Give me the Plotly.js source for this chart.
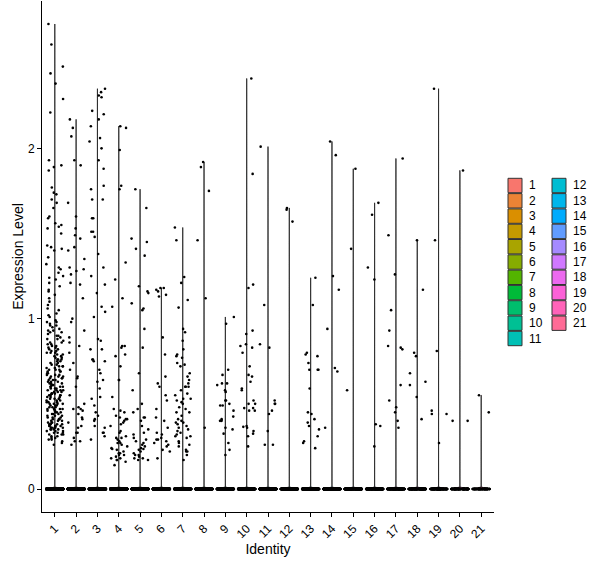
<!DOCTYPE html>
<html>
<head>
<meta charset="utf-8">
<script src="https://cdn.plot.ly/plotly-3.0.1.min.js"></script>
<style>
  html, body { margin: 0; padding: 0; background: #fff; }
  #vln { width: 600px; height: 568px; }
</style>
</head>
<body>
<div id="vln"></div>
<script>
// cluster labels
const identities = ['1','2','3','4','5','6','7','8','9','10','11','12','13','14','15','16','17','18','19','20','21']

// number of cells with zero expression in each cluster (the flat band at 0)
const zeroCounts = [900, 800, 700, 650, 600, 550, 500, 450, 420, 400, 380, 350, 320, 300, 280, 250, 220, 200, 180, 150, 100]

// non-zero expression values
const expr1 = [2.73, 2.61, 2.48, 2.44, 2.38, 2.29, 2.21, 1.93, 1.90, 1.89, 1.87, 1.77, 1.74, 1.73, 1.70, 1.68, 1.65, 1.60, 1.59, 1.56,
  1.55, 1.54, 1.53, 1.50, 1.43, 1.42, 1.41, 1.40, 1.36, 1.32, 1.30, 1.29, 1.27, 1.25, 1.24, 1.23, 1.21, 1.19, 1.17, 1.16,
  1.14, 1.12, 1.10, 1.08, 1.06, 1.05, 1.03, 1.02, 1.01,
  0.99, 0.98, 0.98, 0.97, 0.96, 0.95, 0.94, 0.93, 0.93, 0.92, 0.91, 0.90, 0.90,
  0.89, 0.88, 0.87, 0.86, 0.86, 0.85, 0.84, 0.84, 0.83, 0.82, 0.82, 0.81, 0.80, 0.80, 0.80,
  0.79, 0.79, 0.78, 0.77, 0.77, 0.76, 0.76, 0.75, 0.75, 0.74, 0.73, 0.73, 0.72, 0.72, 0.71, 0.71, 0.70, 0.70,
  0.69, 0.69, 0.68, 0.68, 0.67, 0.67, 0.66, 0.66, 0.65, 0.65, 0.65, 0.64, 0.64, 0.63, 0.63, 0.62, 0.62, 0.61, 0.61, 0.60, 0.60, 0.60,
  0.59, 0.59, 0.58, 0.58, 0.58, 0.57, 0.57, 0.56, 0.56, 0.56, 0.55, 0.55, 0.55, 0.54, 0.54, 0.53, 0.53, 0.53, 0.52, 0.52,
  0.51, 0.51, 0.50, 0.50, 0.50,
  0.49, 0.49, 0.48, 0.48, 0.47, 0.47, 0.47, 0.46, 0.46, 0.45, 0.45, 0.44, 0.44, 0.43, 0.43, 0.42, 0.42, 0.41, 0.41, 0.40, 0.40,
  0.39, 0.39, 0.38, 0.38, 0.38, 0.37, 0.37, 0.37, 0.36, 0.36, 0.36, 0.35, 0.35, 0.35, 0.34, 0.34, 0.33, 0.33, 0.32, 0.32,
  0.31, 0.31, 0.30, 0.29, 0.29, 0.28, 0.27, 0.26,
  0.96, 0.92, 0.88, 0.85, 0.83, 0.81, 0.78, 0.76, 0.74, 0.72, 0.70, 0.69, 0.67, 0.66, 0.64, 0.63, 0.62, 0.61, 0.60, 0.59,
  0.58, 0.57, 0.56, 0.55, 0.54, 0.53, 0.52, 0.51, 0.50, 0.49, 0.48, 0.47, 0.46, 0.45, 0.44, 0.43, 0.42, 0.41, 0.40, 0.39,
  0.38, 0.37, 0.37, 0.36, 0.36, 0.35, 0.34, 0.33, 0.32, 0.30]
const expr2 = [2.17, 2.12, 2.07, 1.93, 1.90, 1.68, 1.60, 1.53, 1.49, 1.47, 1.42, 1.40, 1.35, 1.30, 1.29, 1.28, 1.26, 1.21, 1.20, 1.12,
  1.00, 0.98, 0.93, 0.89, 0.86, 0.84, 0.80, 0.74, 0.70, 0.66, 0.65, 0.60, 0.55, 0.50, 0.48, 0.47, 0.47, 0.46, 0.44, 0.42,
  0.41, 0.39, 0.37, 0.36, 0.33, 0.33, 0.30, 0.28, 0.28, 0.26]
const expr3 = [2.35, 2.33, 2.31, 2.30, 2.22, 2.20, 2.17, 2.13, 2.06, 2.04, 2.00, 1.93, 1.88, 1.78, 1.76, 1.70, 1.70, 1.59, 1.59, 1.51,
  1.51, 1.48, 1.38, 1.30, 1.25, 1.20, 1.15, 1.07, 1.04, 1.01, 0.88, 0.87, 0.82, 0.82, 0.76, 0.76, 0.75, 0.75, 0.70, 0.68,
  0.64, 0.63, 0.59, 0.54, 0.53, 0.49, 0.45, 0.43, 0.41, 0.40, 0.37, 0.36, 0.33, 0.33, 0.31, 0.29]
const expr4 = [2.13, 2.12, 1.99, 1.78, 1.76, 1.33, 1.23, 1.12, 1.07, 0.84, 0.84, 0.83, 0.79, 0.78, 0.72, 0.64, 0.64, 0.54, 0.47, 0.46,
  0.45, 0.43, 0.42, 0.41, 0.41, 0.40, 0.39, 0.38, 0.37, 0.34, 0.33, 0.31, 0.30, 0.30, 0.29, 0.28, 0.27, 0.27, 0.26, 0.25,
  0.24, 0.235, 0.23, 0.22, 0.21, 0.21, 0.20, 0.20, 0.19, 0.18, 0.18, 0.17, 0.17, 0.16, 0.14]
const expr5 = [1.76, 1.65, 1.47, 1.45, 1.41, 1.37, 1.19, 1.16, 1.15, 1.09, 1.06, 1.05, 0.94, 0.83, 0.68, 0.58, 0.50, 0.47, 0.45, 0.42,
  0.42, 0.40, 0.37, 0.35, 0.33, 0.32, 0.30, 0.29, 0.28, 0.27, 0.26, 0.25, 0.24, 0.235, 0.23, 0.22, 0.21, 0.20, 0.20, 0.19,
  0.18, 0.18, 0.17, 0.17]
const expr6 = [1.18, 1.18, 1.17, 1.16, 1.14, 1.13, 0.89, 0.79, 0.66, 0.62, 0.60, 0.55, 0.52, 0.47, 0.42, 0.40, 0.36, 0.33, 0.32, 0.30,
  0.29, 0.29, 0.28, 0.27, 0.26, 0.25, 0.23, 0.22, 0.18]
const expr7 = [1.535, 1.46, 1.245, 1.21, 1.11, 1.065, 0.94, 0.92, 0.87, 0.82, 0.79, 0.78, 0.77, 0.74, 0.73, 0.72, 0.68, 0.66, 0.64, 0.62,
  0.60, 0.60, 0.60, 0.58, 0.56, 0.55, 0.53, 0.53, 0.52, 0.51, 0.50, 0.48, 0.47, 0.45, 0.45, 0.43, 0.41, 0.40, 0.39, 0.39,
  0.38, 0.37, 0.36, 0.35, 0.34, 0.33, 0.32, 0.31, 0.31, 0.30, 0.28, 0.27, 0.26, 0.25, 0.23, 0.22, 0.22, 0.20, 0.17]
const expr8 = [1.92, 1.89, 1.75, 1.46, 1.12, 0.36]
const expr9 = [1.01, 0.97, 0.70, 0.67, 0.62, 0.62, 0.61, 0.58, 0.57, 0.52, 0.52, 0.50, 0.49, 0.49, 0.46, 0.425, 0.41, 0.40, 0.40, 0.36,
  0.35, 0.325, 0.27, 0.23, 0.20]
const expr10 = [2.41, 1.85, 1.20, 1.18, 0.93, 0.91, 0.85, 0.84, 0.83, 0.80, 0.72, 0.67, 0.66, 0.63, 0.59, 0.58, 0.52, 0.50, 0.50, 0.475,
  0.475, 0.46, 0.46, 0.37, 0.365, 0.36, 0.34, 0.325, 0.31, 0.25]
const expr11 = [2.01, 1.08, 0.85, 0.83, 0.52, 0.50, 0.50, 0.46, 0.44, 0.34, 0.26, 0.26]
const expr12 = [1.65, 1.64, 1.57]
const expr13 = [1.24, 1.08, 0.80, 0.79, 0.78, 0.74, 0.70, 0.70, 0.70, 0.59, 0.45, 0.44, 0.41, 0.39, 0.37, 0.35, 0.31, 0.28, 0.27, 0.24]
const expr14 = [2.04, 1.96, 1.25, 1.17, 0.94, 0.71, 0.69, 0.36]
const expr15 = [1.88, 1.41, 0.58]
const expr16 = [1.68, 1.61, 1.30, 1.23, 0.38, 0.37, 0.25]
const expr17 = [1.94, 1.49, 1.26, 1.05, 0.93, 0.84, 0.83, 0.82, 0.61, 0.52, 0.48, 0.45, 0.40, 0.36]
const expr18 = [1.46, 1.17, 0.80, 0.78, 0.68, 0.63, 0.61, 0.54, 0.41]
const expr19 = [2.35, 1.46, 0.81, 0.46, 0.44, 0.44, 0.27]
const expr20 = [1.87, 0.40, 0.40]
const expr21 = [0.55, 0.45]

const exprByIdentity = [expr1, expr2, expr3, expr4, expr5, expr6, expr7, expr8, expr9, expr10, expr11,
  expr12, expr13, expr14, expr15, expr16, expr17, expr18, expr19, expr20, expr21]

// ggplot2 default hue palette: hcl(h, c = 100, l = 65)
function hcl(h, c, l) {
  const hr = h * Math.PI / 180
  const u = c * Math.cos(hr), v = c * Math.sin(hr)
  const Xn = 95.047, Yn = 100, Zn = 108.883
  const den = Xn + 15 * Yn + 3 * Zn
  const un = 4 * Xn / den, vn = 9 * Yn / den
  const Y = l > 8 ? Yn * Math.pow((l + 16) / 116, 3) : Yn * l / 903.3
  const up = u / (13 * l) + un, vp = v / (13 * l) + vn
  const X = Y * 9 * up / (4 * vp) / 100
  const Z = Y * (12 - 3 * up - 20 * vp) / (4 * vp) / 100
  const y = Y / 100
  const lin = [
    3.240479 * X - 1.537150 * y - 0.498535 * Z,
    -0.969256 * X + 1.875992 * y + 0.041556 * Z,
    0.055648 * X - 0.204043 * y + 1.057311 * Z
  ]
  const hex = lin.map(ch => {
    let s = ch <= 0.0031308 ? 12.92 * ch : 1.055 * Math.pow(ch, 1 / 2.4) - 0.055
    s = Math.min(1, Math.max(0, s))
    return Math.round(s * 255).toString(16).padStart(2, '0')
  })
  return '#' + hex.join('')
}
const n = identities.length
const colors = identities.map((_, i) => hcl(15 + i * 360 / n, 100, 65))

// fixed-seed jitter so the page is the same on every load
function mulberry32(a) {
  return function() {
    a |= 0; a = a + 0x6D2B79F5 | 0
    let t = Math.imul(a ^ a >>> 15, 1 | a)
    t = t + Math.imul(t ^ t >>> 7, 61 | t) ^ t
    return ((t ^ t >>> 14) >>> 0) / 4294967296
  }
}
const rand = mulberry32(20190611)

const traces = []
const ptsX = [], ptsY = []
identities.forEach((id, i) => {
  const vals = exprByIdentity[i].concat(new Array(zeroCounts[i]).fill(0))
  traces.push({
    type: 'violin',
    name: id,
    x0: i + 1,
    y: vals,
    width: 0.9,
    scalemode: 'width',
    spanmode: 'hard',
    bandwidth: 0.005,
    points: false,
    fillcolor: colors[i],
    line: { color: '#000000', width: 0.8 },
    hoverinfo: 'skip',
    showlegend: false
  })
  vals.forEach(v => {
    ptsX.push(i + 1 + (rand() - 0.5) * 0.8)
    ptsY.push(v)
  })
})
traces.push({
  type: 'scatter',
  mode: 'markers',
  x: ptsX,
  y: ptsY,
  marker: { color: '#000000', size: 2.6 },
  hoverinfo: 'skip',
  showlegend: false
})

// plot box in pixels, used for the hand drawn two column legend
const M = { l: 42, r: 106, t: 1, b: 56 }
const W = 600, H = 568
const pw = W - M.l - M.r, ph = H - M.t - M.b
const px = x => (x - M.l) / pw
const py = y => (H - M.b - y) / ph

const shapes = [], annotations = []
const perCol = Math.ceil(n / 2)
identities.forEach((id, i) => {
  const col = Math.floor(i / perCol), row = i % perCol
  const x0 = 508 + col * 44, y0 = 178.3 + row * 15.3
  shapes.push({
    type: 'rect', xref: 'paper', yref: 'paper',
    x0: px(x0), x1: px(x0 + 14), y0: py(y0), y1: py(y0 + 14.4),
    fillcolor: colors[i], line: { color: '#333333', width: 1 }
  })
  annotations.push({
    xref: 'paper', yref: 'paper', x: px(x0 + 19), y: py(y0 + 7.2),
    xanchor: 'left', yanchor: 'middle', showarrow: false,
    text: id, font: { size: 12, color: '#000000' }
  })
})

const layout = {
  width: W,
  height: H,
  margin: M,
  paper_bgcolor: '#ffffff',
  plot_bgcolor: '#ffffff',
  font: { family: 'Liberation Sans, Arial, sans-serif', color: '#000000' },
  violinmode: 'overlay',
  showlegend: false,
  xaxis: {
    type: 'linear',
    range: [0.4, n + 0.6],
    tickvals: identities.map((_, i) => i + 1),
    ticktext: identities,
    tickangle: -45,
    ticks: 'outside',
    ticklen: 4,
    tickcolor: '#000000',
    tickfont: { size: 12, color: '#000000' },
    showline: true,
    linecolor: '#000000',
    linewidth: 1,
    showgrid: false,
    zeroline: false,
    title: { text: 'Identity', font: { size: 14 }, standoff: 2 }
  },
  yaxis: {
    range: [-0.135, 2.865],
    tickvals: [0, 1, 2],
    ticks: 'outside',
    ticklen: 4,
    tickcolor: '#000000',
    tickfont: { size: 12, color: '#000000' },
    showline: true,
    linecolor: '#000000',
    linewidth: 1,
    showgrid: false,
    zeroline: false,
    title: { text: 'Expression Level', font: { size: 14 }, standoff: 1 }
  },
  shapes: shapes,
  annotations: annotations
}

Plotly.newPlot('vln', traces, layout, { displayModeBar: false, responsive: false })
</script>
</body>
</html>
